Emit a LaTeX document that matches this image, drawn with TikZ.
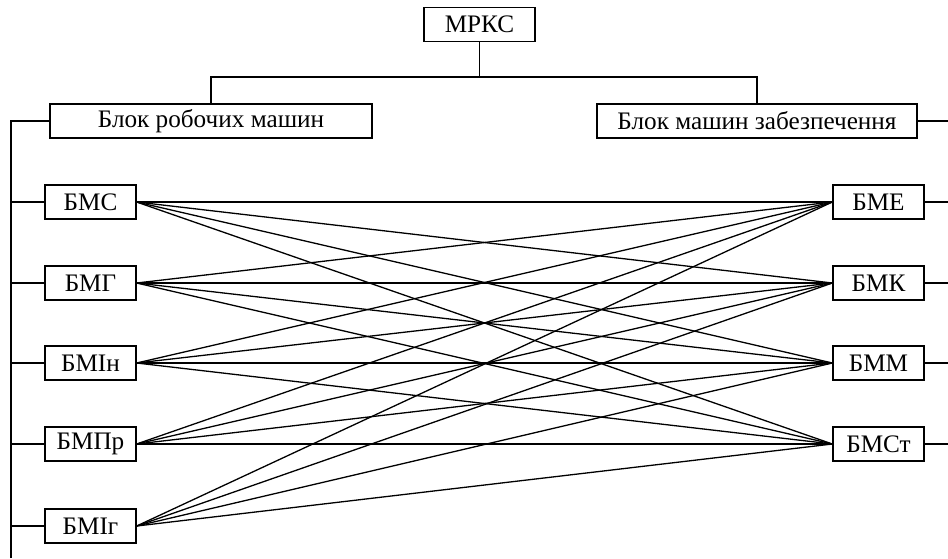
\documentclass[tikz,border=0pt]{standalone}
\usepackage{fontspec}
\setmainfont{Liberation Serif}
\begin{document}
\begin{tikzpicture}[x=.5pt,y=-.5pt,line width=.65pt,every node/.style={draw,fill=white,inner sep=0pt,minimum height=17pt,font=\fontsize{12.6}{14}\selectfont}]
\useasboundingbox (0,0) rectangle (948,558);
\node[minimum width=55.5pt] (mrks) at (479.5,24.5) {МРКС};
\node[minimum width=161pt] (wrk) at (211,121) {Блок робочих машин};
\node[minimum width=160pt] (sup) at (757,121) {Блок машин забезпечення};
\coordinate (fork) at (479.5,77);
\draw (mrks)--(fork);\draw (wrk.north)|-(fork)-|(sup.north);
% left and right blocks
\foreach \t/\y [count=\i] in {БМС/202,БМГ/283,БМІн/363,БМПр/444,БМІг/526}{\node[minimum width=45.5pt] (l\i) at (90.5,\y) {\t};}
\foreach \t/\y [count=\j] in {БМЕ/202,БМК/283,БММ/363,БМСт/444}{\node[minimum width=45.5pt] (r\j) at (878.5,\y) {\t};}
\foreach \i in {1,...,5}{\foreach \j in {1,...,4}{\draw (l\i.east)--(r\j.west);}}
% buses
\coordinate (lt) at (11,121);\coordinate (lb) at (11,558);\coordinate (re) at (948,121);
\draw (lb)--(lt)--(wrk.west);\draw (sup.east)--(re);
\foreach \i in {1,...,5}{\draw (l\i.west)--(l\i.west-|lt);}
\foreach \j in {1,...,4}{\draw (r\j.east)--(r\j.east-|re);}
\end{tikzpicture}
\end{document}
